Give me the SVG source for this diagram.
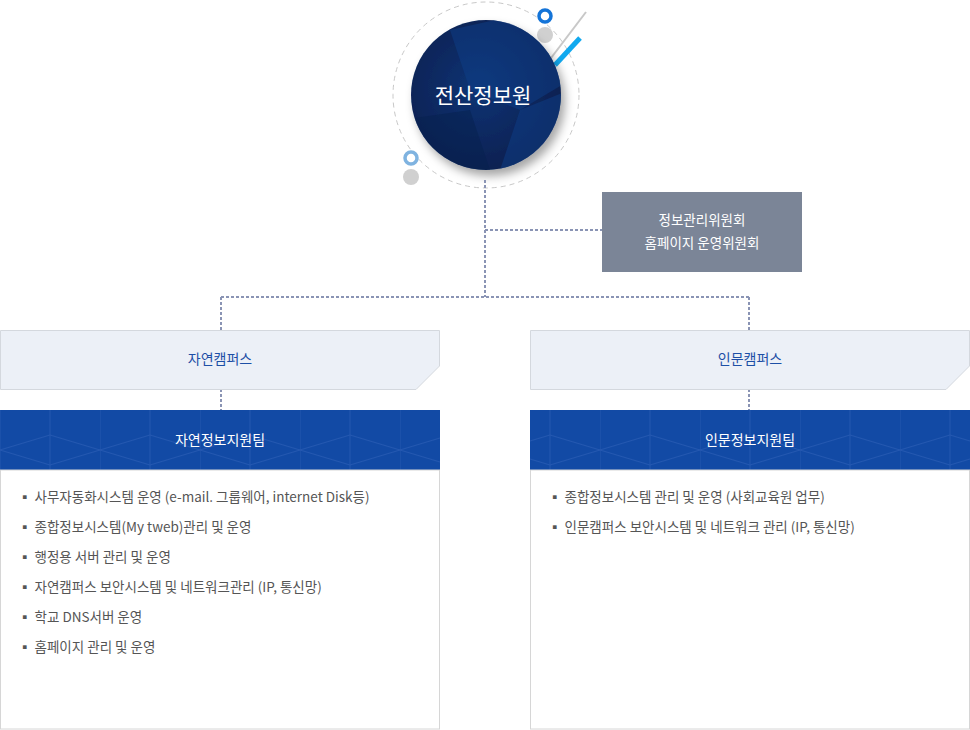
<svg xmlns="http://www.w3.org/2000/svg" width="970" height="730" viewBox="0 0 970 730">
<style>
text{font-family:"Noto Sans CJK KR","Noto Sans",sans-serif}
.conn{stroke:#8a94b4;stroke-width:2;stroke-dasharray:3 2;fill:none}
.camp{fill:#ecf0f7;stroke:#d4d8de}
.ct{fill:#1d4fa6;font-size:14px;text-anchor:middle}
.team{fill:#124aa5}
.tt{fill:#fff;font-size:14px;text-anchor:middle}
.box{fill:#fff;stroke:#d6d6d6}
.li{fill:#555;font-size:13.5px}
.pat{stroke:#2458b0;stroke-width:1;fill:none}
</style>
<defs>
<radialGradient id="g" cx="0.45" cy="0.45" r="0.6"><stop offset="0" stop-color="#0a3475"/><stop offset="1" stop-color="#081f4e"/></radialGradient>
<filter id="sh" x="-20%" y="-20%" width="150%" height="150%"><feDropShadow dx="4" dy="6" stdDeviation="5" flood-color="#000" flood-opacity="0.35"/></filter>
<clipPath id="cc"><circle cx="486" cy="95" r="75"/></clipPath>
<pattern id="hx" width="100" height="60" patternUnits="userSpaceOnUse"><path class="pat" d="M0 30 L50 15 L100 30 M0 30 L50 45 L100 30 M50 0 V60 M0 0 V60"/></pattern>
</defs>
<g id="top">
<circle cx="486" cy="95" r="93" fill="none" stroke="#c8c8c8" stroke-dasharray="5 4"/>
<line x1="548" y1="62" x2="586" y2="12" stroke="#c8c8c8" stroke-width="2"/>
<line x1="555" y1="65" x2="580" y2="38" stroke="#11a9ef" stroke-width="5"/>
<circle cx="545" cy="35" r="8" fill="#d0d0d0"/>
<circle cx="545" cy="16" r="6" fill="none" stroke="#1474d8" stroke-width="3.5"/>
<circle cx="411" cy="177" r="8" fill="#d0d0d0"/>
<circle cx="411" cy="158" r="6" fill="none" stroke="#7fb3e0" stroke-width="3.5"/>
<circle cx="486" cy="95" r="75" fill="url(#g)" filter="url(#sh)"/>
<g clip-path="url(#cc)" opacity="0.5">
<polygon points="450,30 540,10 570,80 520,110 470,90" fill="#0e3f88"/>
<polygon points="520,110 570,90 570,170 500,170" fill="#0e3f88"/>
<polygon points="400,120 470,110 490,170 420,170" fill="#06204f"/>
</g>
<text x="483" y="103" fill="#fff" font-size="21" text-anchor="middle">전산정보원</text>
</g>
<g id="connectors">
<path class="conn" d="M485 180 V297 M485 230 H602 M221 297 H749 M221 297 V330 M749 297 V330 M221 389 V410 M749 389 V410"/>
</g>
<g id="committee">
<rect x="602" y="192" width="200" height="80" fill="#7b8597"/>
<text x="702" y="225" fill="#fff" font-size="13.5" text-anchor="middle">정보관리위원회</text>
<text x="702" y="248" fill="#fff" font-size="13.5" text-anchor="middle">홈페이지 운영위원회</text>
</g>
<g id="left">
<path class="camp" d="M0.5 330.5 H439.5 V366 L416 389.5 H0.5 Z"/>
<text class="ct" x="220" y="364">자연캠퍼스</text>
<rect class="team" x="0" y="410" width="440" height="60"/>
<rect x="0" y="410" width="440" height="60" fill="url(#hx)"/>
<text class="tt" x="220" y="445">자연정보지원팀</text>
<rect class="box" x="0.5" y="470" width="439" height="259"/>
<g class="li">
<text x="18" y="502">▪  사무자동화시스템 운영 (e-mail. 그룹웨어, internet Disk등)</text>
<text x="18" y="532">▪  종합정보시스템(My tweb)관리 및 운영</text>
<text x="18" y="562">▪  행정용 서버 관리 및 운영</text>
<text x="18" y="592">▪  자연캠퍼스 보안시스템 및 네트워크관리 (IP, 통신망)</text>
<text x="18" y="622">▪  학교 DNS서버 운영</text>
<text x="18" y="652">▪  홈페이지 관리 및 운영</text>
</g>
</g>
<g id="right">
<path class="camp" d="M530.5 330.5 H969.5 V366 L946 389.5 H530.5 Z"/>
<text class="ct" x="750" y="364">인문캠퍼스</text>
<rect class="team" x="530" y="410" width="440" height="60"/>
<rect x="530" y="410" width="440" height="60" fill="url(#hx)"/>
<text class="tt" x="750" y="445">인문정보지원팀</text>
<rect class="box" x="530.5" y="470" width="439" height="259"/>
<g class="li">
<text x="548" y="502">▪  종합정보시스템 관리 및 운영 (사회교육원 업무)</text>
<text x="548" y="532">▪  인문캠퍼스 보안시스템 및 네트워크 관리 (IP, 통신망)</text>
</g>
</g>
</svg>
